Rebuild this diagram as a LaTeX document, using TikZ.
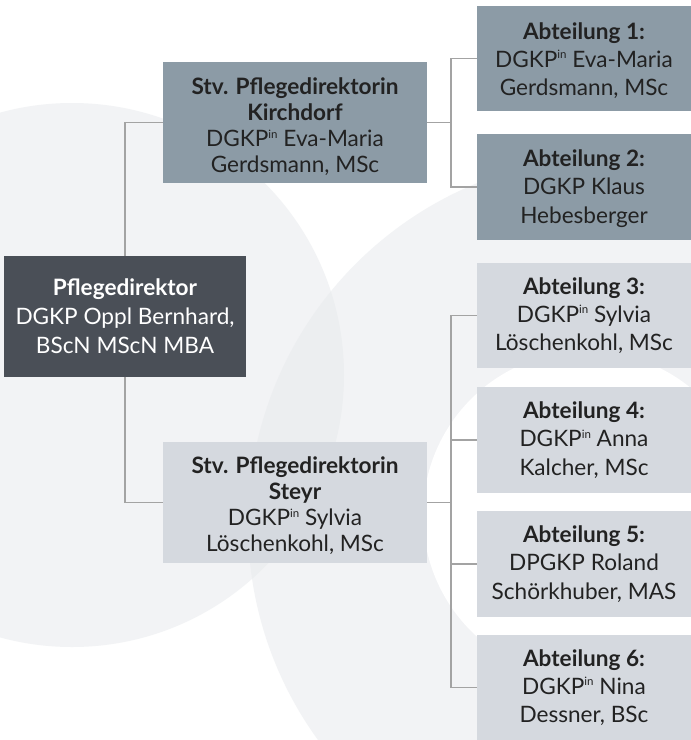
\documentclass[tikz,border=0pt]{standalone}
\usepackage{fontspec}
\setmainfont{Lato}
\definecolor{bgc}{HTML}{E8EAED}
\definecolor{darkbox}{HTML}{4A4F57}
\definecolor{midbox}{HTML}{8C9BA6}
\definecolor{lightbox}{HTML}{D5D9DF}
\definecolor{txt}{HTML}{222222}
\definecolor{conncol}{HTML}{A3A3A3}
\tikzset{
  orgbox/.style={rectangle, inner sep=0pt, align=center, anchor=center, text=txt},
  dirbox/.style={orgbox, fill=darkbox, text=white, minimum width=242, minimum height=121,
    font=\fontsize{22.6}{29}\selectfont},
  stvbox/.style={orgbox, minimum width=264, minimum height=121,
    font=\fontsize{22.6}{26}\selectfont},
  abtbox/.style={orgbox, minimum width=214, minimum height=105.5,
    font=\fontsize{22.6}{28.3}\selectfont},
  conn/.style={draw=conncol, line width=1.2pt}
}
\newcommand{\supin}{\raisebox{0.75ex}{\fontsize{11.5}{11.5}\selectfont in}}
\newcommand{\lowerby}[1]{\rule{0pt}{#1}}
\begin{document}
\begin{tikzpicture}[x=1pt,y=-1pt]
\useasboundingbox (0,0) rectangle (691,740);
\fill[white] (0,0) rectangle (691,740);
\begin{scope}
  \clip (0,0) rectangle (691,740);
  \fill[bgc, opacity=.55] (72,375) circle[radius=272];
  \fill[bgc, opacity=.55] (616,524) circle[radius=368];
  \fill[white] (587,515) circle[radius=164];
\end{scope}

\node[dirbox] (P) at (125,316.5) {\textbf{Pflegedirektor}\\DGKP Oppl Bernhard,\\BScN MScN MBA};
\node[stvbox, fill=midbox] (K) at (295,122.5) {\lowerby{26pt}\textbf{Stv. Pflegedirektorin}\\\textbf{Kirchdorf}\\DGKP\supin{} Eva-Maria\\Gerdsmann, MSc};
\node[stvbox, fill=lightbox] (S) at (295,502.5) {\lowerby{24pt}\textbf{Stv. Pflegedirektorin}\\\textbf{Steyr}\\DGKP\supin{} Sylvia\\Löschenkohl, MSc};

\node[abtbox, fill=midbox] (A1) at (584,58.5) {\lowerby{21pt}\textbf{Abteilung 1:}\\DGKP\supin{} Eva-Maria\\Gerdsmann, MSc};
\node[abtbox, fill=midbox] (A2) at (584,187) {\lowerby{20pt}\textbf{Abteilung 2:}\\DGKP Klaus\\Hebesberger};
\node[abtbox, fill=lightbox] (A3) at (584,315.5) {\textbf{Abteilung 3:}\\DGKP\supin{} Sylvia\\Löschenkohl, MSc};
\node[abtbox, fill=lightbox] (A4) at (584,440) {\textbf{Abteilung 4:}\\DGKP\supin{} Anna\\Kalcher, MSc};
\node[abtbox, fill=lightbox] (A5) at (584,564) {\textbf{Abteilung 5:}\\DPGKP Roland\\Schörkhuber, MAS};
\node[abtbox, fill=lightbox] (A6) at (584,687.5) {\textbf{Abteilung 6:}\\DGKP\supin{} Nina\\Dessner, BSc};

\coordinate (bk) at (451,122.5);
\coordinate (bs) at (451,502.5);
\draw[conn] (P.north) |- (K.west);
\draw[conn] (P.south) |- (S.west);
\draw[conn] (K.east) -- (bk);
\draw[conn] (bk) |- (A1.west);
\draw[conn] (bk) |- (A2.west);
\draw[conn] (S.east) -- (bs);
\draw[conn] (bs) |- (A3.west);
\draw[conn] (bs) |- (A4.west);
\draw[conn] (bs) |- (A5.west);
\draw[conn] (bs) |- (A6.west);
\end{tikzpicture}
\end{document}
